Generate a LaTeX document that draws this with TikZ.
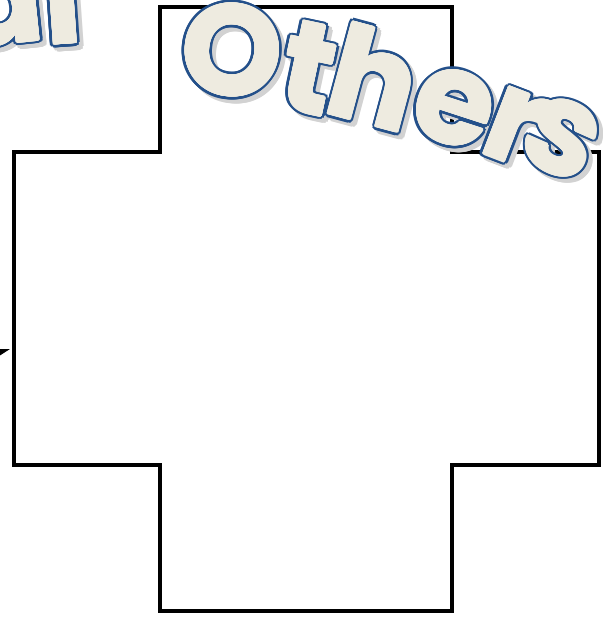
\documentclass[tikz,border=0pt]{standalone}
\usepackage{fontspec}
\setmainfont{Poppins}
\usepackage{tikz}
\usetikzlibrary{arrows.meta}
\definecolor{artfill}{HTML}{EEEBE0}
\definecolor{artline}{HTML}{24508A}
\definecolor{artshade}{HTML}{D2D2D2}
\newcommand{\artfont}{\fontsize{128}{128}\selectfont\bfseries}
% x / y / angle / letter
\newcommand{\artletters}{0/8/6/a, 62/-4/4/l, 232/50/-6/O, 309/68/-12/t,
  375/77/-15/h, 454/108/-18/e, 515/127/-21/r, 562/138/-24/s}

\begin{document}
\begin{tikzpicture}[x=1pt, y=-1pt,
    art/.style={inner sep=0pt, font=\artfont},
    crossline/.style={line width=4.5pt, line join=miter}]
  \useasboundingbox (0,0) rectangle (613,619);
  % the cross
  \draw[crossline] (160,7) -- (452,7) -- (452,152) -- (599,152)
    -- (599,465) -- (452,465) -- (452,611) -- (160,611) -- (160,465)
    -- (14,465) -- (14,152) -- (160,152) -- cycle;
  % arrow coming in from the left
  \coordinate (arrowend) at (10,349);
  \coordinate (arrowstart) at (-48,366);
  \draw[line width=1pt, -{Triangle[length=20pt, width=11.5pt]}]
    (arrowstart) -- (arrowend);
  % word art: shadow, outline, fill
  \foreach \col/\off/\rad in {artshade/4/3.8, artline/0/3.8, artfill/0/1.2}
    \foreach \lx/\ly/\lr/\lc in \artletters
      \foreach \a in {0,22.5,...,337.5}
        \node[art, text=\col, rotate=\lr]
          at ({\lx+\off+\rad*cos(\a)},{\ly+\off+\rad*sin(\a)}) {\lc};
  \foreach \lx/\ly/\lr/\lc in \artletters
    \node[art, text=artfill, rotate=\lr] (art\lc) at (\lx,\ly) {\lc};
\end{tikzpicture}
\end{document}
